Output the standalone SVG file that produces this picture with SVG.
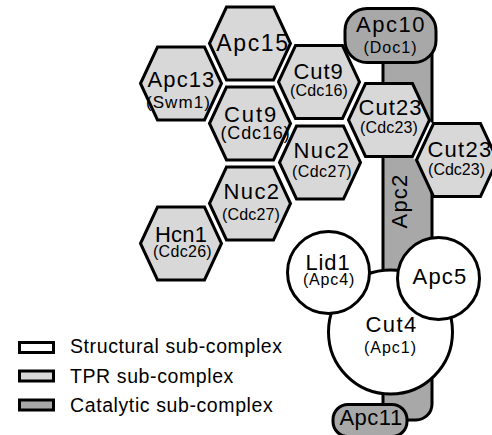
<svg xmlns="http://www.w3.org/2000/svg" width="492" height="435" viewBox="0 0 492 435">
<style>
  .tpr{fill:#d8d8d8;stroke:#000;stroke-width:3}
  .cat{fill:#a8a8a8;stroke:#000;stroke-width:3}
  .str{fill:#fff;stroke:#000;stroke-width:3}
  text{font-family:"Liberation Sans",Arial,Helvetica,sans-serif;fill:#000;text-anchor:middle}
  .t{font-size:22px}
  .s{font-size:16px}
  .leg{font-size:19.5px;letter-spacing:0.6px;text-anchor:start}
</style>
<defs>
  <polygon id="hex" points="-40.5,0 -23.5,-36.5 23.5,-36.5 40.5,0 23.5,36.5 -23.5,36.5"/>
</defs>
<rect width="492" height="435" fill="#fff"/>

<g id="apc2">
  <rect class="cat" x="383" y="30" width="49" height="390" rx="16"/>
  <text class="t" transform="translate(407,201) rotate(-90)" letter-spacing="1.2">Apc2</text>
</g>

<g id="apc10">
  <rect class="cat" x="345" y="8.5" width="91" height="54" rx="22"/>
  <text class="t" x="391" y="32" letter-spacing="1.5">Apc10</text>
  <text class="s" x="390.5" y="53" letter-spacing="1">(Doc1)</text>
</g>

<g id="apc15">
  <use href="#hex" class="tpr" x="250" y="43.5"/>
  <text class="t" x="253" y="51" style="font-size:23px" letter-spacing="1.7">Apc15</text>
</g>

<g id="apc13">
  <use href="#hex" class="tpr" x="181" y="83.5"/>
  <text class="t" x="181.5" y="87" letter-spacing="1.1">Apc13</text>
  <text class="s" x="178.5" y="108" style="font-size:17px" letter-spacing="1.1">(Swm1)</text>
</g>

<g id="cut9-left">
  <use href="#hex" class="tpr" x="250" y="123.5"/>
  <text class="t" x="251" y="122" letter-spacing="1.9">Cut9</text>
  <text class="s" x="255.5" y="138.5" style="font-size:18px" letter-spacing="0.85">(Cdc16)</text>
</g>

<g id="cut9-right">
  <use href="#hex" class="tpr" x="319" y="82"/>
  <text class="t" x="318.5" y="79" letter-spacing="0.9">Cut9</text>
  <text class="s" x="319" y="96" letter-spacing="0.15">(Cdc16)</text>
</g>

<g id="nuc2-right">
  <use href="#hex" class="tpr" x="320" y="162.5"/>
  <text class="t" x="322" y="158" letter-spacing="1.4">Nuc2</text>
  <text class="s" x="322" y="177" letter-spacing="0.45">(Cdc27)</text>
</g>

<g id="nuc2-left">
  <use href="#hex" class="tpr" x="250" y="203.5"/>
  <text class="t" x="252" y="199" letter-spacing="1.4">Nuc2</text>
  <text class="s" x="251" y="220" letter-spacing="0.15">(Cdc27)</text>
</g>

<g id="hcn1">
  <use href="#hex" class="tpr" x="181" y="243.5"/>
  <text class="t" x="181" y="242" letter-spacing="0.2">Hcn1</text>
  <text class="s" x="182.5" y="257" letter-spacing="0.3">(Cdc26)</text>
</g>

<g id="cut23-middle">
  <use href="#hex" class="tpr" x="389" y="120"/>
  <text class="t" x="390.5" y="115" letter-spacing="1.1">Cut23</text>
  <text class="s" x="389" y="133" letter-spacing="0.15">(Cdc23)</text>
</g>

<g id="cut23-right">
  <line x1="416.5" y1="160" x2="433.5" y2="123.5" stroke="#fff" stroke-width="7"/>
  <use href="#hex" class="tpr" x="457" y="160"/>
  <text class="t" x="460" y="157" letter-spacing="1.3">Cut23</text>
  <text class="s" x="456.5" y="175">(Cdc23)</text>
</g>

<g id="cut4">
  <circle class="str" cx="390.5" cy="332" r="62"/>
  <text class="t" x="391.5" y="332" letter-spacing="1.4">Cut4</text>
  <text class="s" x="390.5" y="353" letter-spacing="1">(Apc1)</text>
</g>

<g id="lid1">
  <circle class="str" cx="328.5" cy="272.5" r="41"/>
  <text class="t" x="328" y="270" letter-spacing="0.85">Lid1</text>
  <text class="s" x="329" y="285" letter-spacing="0.85">(Apc4)</text>
</g>

<g id="apc5">
  <circle class="str" cx="438.5" cy="278.5" r="41"/>
  <text class="t" x="440" y="284" letter-spacing="1.2">Apc5</text>
</g>

<g id="apc11">
  <rect class="cat" x="333" y="404.5" width="74" height="32" rx="15"/>
  <text class="t" x="371" y="425" letter-spacing="0.5">Apc11</text>
</g>

<g id="legend">
  <rect class="str" x="19.5" y="342.5" width="34" height="10"/>
  <text class="leg" x="70" y="353">Structural sub-complex</text>
  <rect class="tpr" x="19.5" y="371" width="34" height="10"/>
  <text class="leg" x="70" y="382.5">TPR sub-complex</text>
  <rect class="cat" x="19.5" y="400" width="34" height="10"/>
  <text class="leg" x="70" y="412">Catalytic sub-complex</text>
</g>
</svg>
